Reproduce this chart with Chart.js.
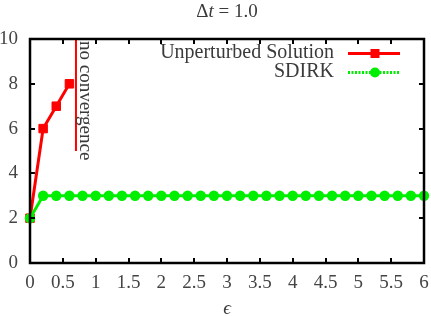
<!DOCTYPE html>
<html>
<head>
<meta charset="utf-8">
<script src="https://cdn.jsdelivr.net/npm/chart.js@4/dist/chart.umd.min.js"></script>
<style>
html,body{margin:0;padding:0;background:#fff;}
#wrap{width:431px;height:316px;position:relative;}
</style>
</head>
<body>
<div id="wrap"><canvas id="c" width="431" height="316"></canvas></div>
<script>
// ---- data ----
const epsUnperturbed = [0, 0.2, 0.4, 0.6];
const valUnperturbed = [2, 6, 7, 8];
const epsSDIRK = [0, 0.2, 0.4, 0.6, 0.8, 1.0, 1.2, 1.4, 1.6, 1.8, 2.0, 2.2, 2.4, 2.6, 2.8, 3.0,
                  3.2, 3.4, 3.6, 3.8, 4.0, 4.2, 4.4, 4.6, 4.8, 5.0, 5.2, 5.4, 5.6, 5.8, 6.0];
const valSDIRK = [2, 3, 3, 3, 3, 3, 3, 3, 3, 3, 3, 3, 3, 3, 3, 3,
                  3, 3, 3, 3, 3, 3, 3, 3, 3, 3, 3, 3, 3, 3, 3];
const xTickValues = [0, 0.5, 1, 1.5, 2, 2.5, 3, 3.5, 4, 4.5, 5, 5.5, 6];
const yTickValues = [0, 2, 4, 6, 8, 10];
const noConvEps = [0.7, 0.7];
const noConvVal = [5, 10];
const noConvLabel = 'no convergence';
const seriesNames = ['Unperturbed Solution', 'SDIRK'];

const FONT = '"Liberation Serif", "Times New Roman", serif';
const TXT = '#3a3a3a';

const pts = (xs, ys) => xs.map((x, i) => ({x: x, y: ys[i]}));

const overlay = {
  id: 'overlay',
  afterDraw(chart) {
    const ctx = chart.ctx, a = chart.chartArea;
    const xs = chart.scales.x, ys = chart.scales.y;
    ctx.save();
    // ticks (inside, mirrored)
    ctx.strokeStyle = '#000';
    ctx.lineWidth = 2;
    const tl = 5;
    ctx.beginPath();
    xTickValues.forEach(v => {
      const px = Math.round(xs.getPixelForValue(v));
      ctx.moveTo(px, a.bottom); ctx.lineTo(px, a.bottom - tl);
      ctx.moveTo(px, a.top); ctx.lineTo(px, a.top + tl);
    });
    yTickValues.forEach(v => {
      const py = Math.round(ys.getPixelForValue(v));
      ctx.moveTo(a.left, py); ctx.lineTo(a.left + tl, py);
      ctx.moveTo(a.right, py); ctx.lineTo(a.right - tl, py);
    });
    ctx.stroke();
    // border
    ctx.lineWidth = 2.5;
    ctx.strokeRect(a.left, a.top, a.right - a.left, a.bottom - a.top);

    // no convergence text
    const tx = xs.getPixelForValue(noConvEps[0]) + 4;
    const ty = ys.getPixelForValue(noConvVal[1]) + 2;
    ctx.translate(tx, ty);
    ctx.rotate(Math.PI / 2);
    ctx.fillStyle = TXT;
    ctx.font = '19px ' + FONT;
    ctx.textAlign = 'left';
    ctx.textBaseline = 'alphabetic';
    ctx.fillText(noConvLabel, 0, 0);
    ctx.setTransform(1, 0, 0, 1, 0, 0);

    // legend
    const ds = chart.data.datasets;
    const rows = [53, 72];
    [0, 1].forEach(i => {
      const d = ds[i];
      const y = rows[i];
      ctx.fillStyle = TXT;
      ctx.font = '20px ' + FONT;
      ctx.textAlign = 'right';
      ctx.textBaseline = 'middle';
      ctx.fillText(seriesNames[i], 334, y);
      ctx.strokeStyle = d.borderColor;
      ctx.lineWidth = d.borderWidth;
      ctx.setLineDash(i === 1 ? [2, 1.5] : []);
      ctx.beginPath();
      ctx.moveTo(348, y + 0.5); ctx.lineTo(400, y + 0.5);
      ctx.stroke();
      ctx.setLineDash([]);
      ctx.fillStyle = d.pointBackgroundColor;
      if (i === 0) {
        ctx.fillRect(375 - 4.5, y + 0.5 - 4.5, 9, 9);
      } else {
        ctx.beginPath(); ctx.arc(375, y + 0.5, 5, 0, Math.PI * 2); ctx.fill();
      }
    });

    // title
    ctx.fillStyle = TXT;
    ctx.textBaseline = 'alphabetic';
    const cx = (a.left + a.right) / 2;
    const p1 = 'Δ', p2 = 't', p3 = ' = 1.0';
    ctx.font = '19px ' + FONT;
    const w1 = ctx.measureText(p1).width, w3 = ctx.measureText(p3).width;
    ctx.font = 'italic 19px ' + FONT;
    const w2 = ctx.measureText(p2).width;
    let x0 = cx - (w1 + w2 + w3) / 2;
    const by = 17;
    ctx.textAlign = 'left';
    ctx.font = '19px ' + FONT; ctx.fillText(p1, x0, by); x0 += w1;
    ctx.font = 'italic 19px ' + FONT; ctx.fillText(p2, x0, by); x0 += w2;
    ctx.font = '19px ' + FONT; ctx.fillText(p3, x0, by);
    ctx.restore();
  }
};

new Chart(document.getElementById('c'), {
  type: 'line',
  data: {
    datasets: [
      {
        label: seriesNames[0],
        data: pts(epsUnperturbed, valUnperturbed),
        borderColor: '#ff0000',
        backgroundColor: '#ff0000',
        pointBackgroundColor: '#ff0000',
        pointBorderColor: '#ff0000',
        borderWidth: 3,
        pointStyle: 'rect',
        pointRadius: 6,
        pointBorderWidth: 1,
        clip: false,
        order: 1
      },
      {
        label: seriesNames[1],
        data: pts(epsSDIRK, valSDIRK),
        borderColor: '#00ee00',
        backgroundColor: '#00ee00',
        pointBackgroundColor: '#00ee00',
        pointBorderColor: '#00ee00',
        borderWidth: 3,
        pointStyle: 'circle',
        pointRadius: 5.2,
        pointBorderWidth: 0,
        clip: false,
        order: 0
      },
      {
        label: noConvLabel,
        data: pts(noConvEps, noConvVal),
        borderColor: '#ff0000',
        borderWidth: 2,
        pointRadius: 0,
        clip: false,
        order: 2
      }
    ]
  },
  options: {
    responsive: false,
    animation: false,
    devicePixelRatio: 1,
    layout: {padding: {top: 39, right: 7, left: 0, bottom: 0}},
    plugins: {legend: {display: false}, title: {display: false}, tooltip: {enabled: false}},
    elements: {line: {tension: 0}},
    scales: {
      x: {
        type: 'linear', min: 0, max: 6,
        grid: {display: false, drawTicks: false},
        border: {display: false},
        afterBuildTicks(s) { s.ticks = xTickValues.map(v => ({value: v})); },
        afterFit(s) { s.height = 53; s.paddingLeft = 0; s.paddingRight = 0; },
        ticks: {
          padding: 9, color: '#444',
          font: {family: FONT, size: 19},
          callback: v => String(v)
        },
        title: {
          display: true, text: 'ϵ', color: TXT,
          font: {family: FONT, size: 19, style: 'italic'},
          padding: {top: 0, bottom: -4}
        }
      },
      y: {
        type: 'linear', min: 0, max: 10,
        grid: {display: false, drawTicks: false},
        border: {display: false},
        afterBuildTicks(s) { s.ticks = yTickValues.map(v => ({value: v})); },
        afterFit(s) { s.width = 30; s.paddingTop = 0; s.paddingBottom = 0; },
        ticks: {
          padding: 12, color: '#444',
          font: {family: FONT, size: 19},
          callback: v => String(v)
        }
      }
    }
  },
  plugins: [overlay]
});
</script>
</body>
</html>
